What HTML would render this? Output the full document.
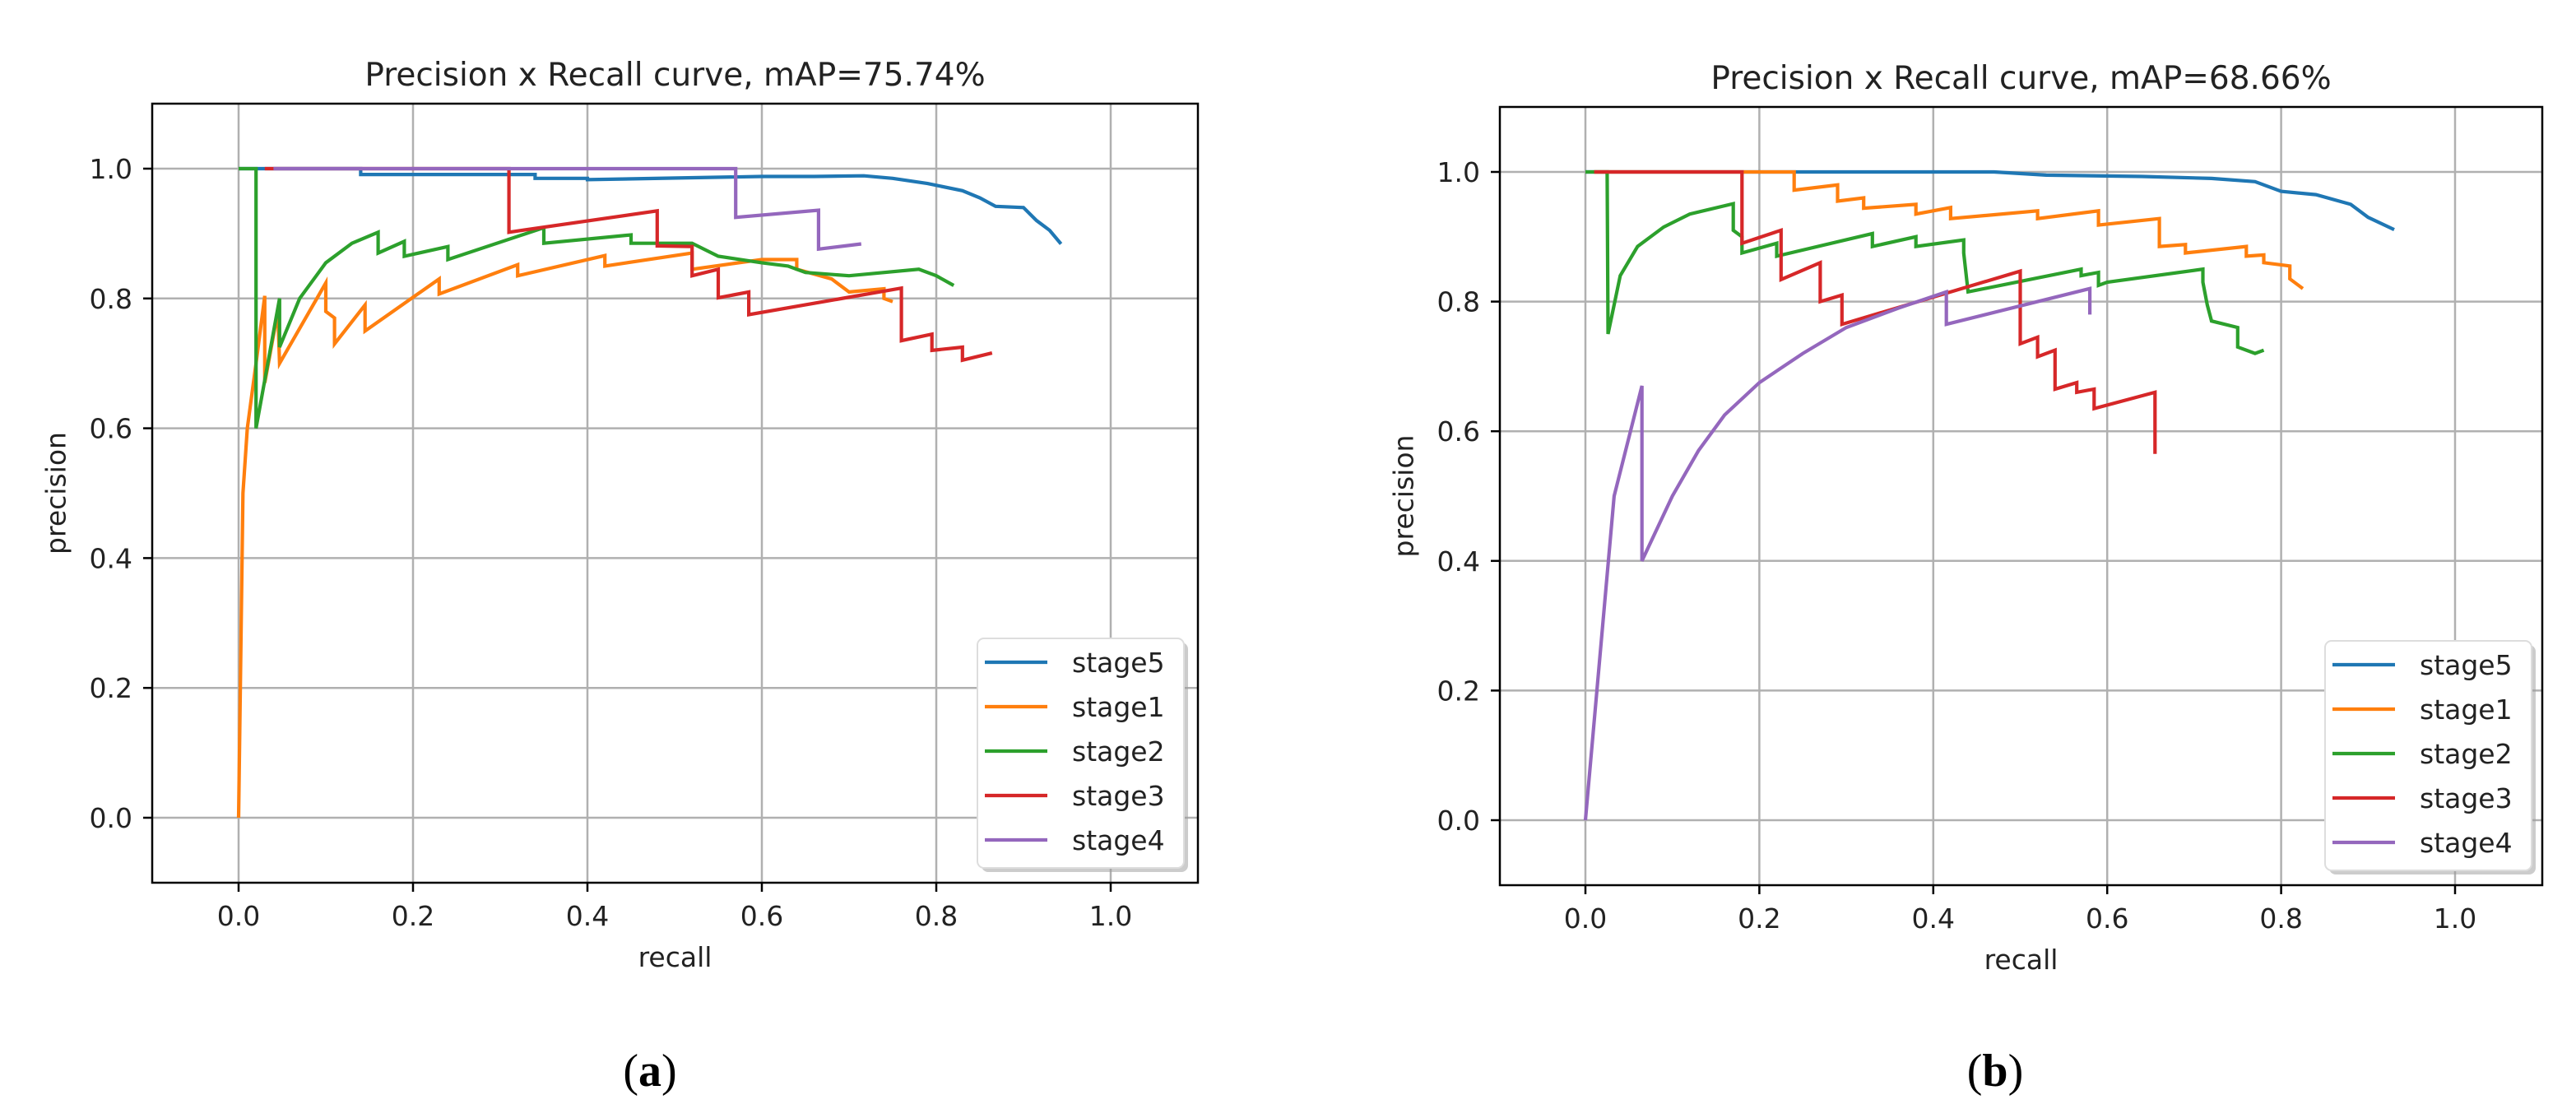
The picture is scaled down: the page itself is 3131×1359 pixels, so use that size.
<!DOCTYPE html>
<html><head><meta charset="utf-8"><style>
html,body{margin:0;padding:0;background:#fff;}
svg{display:block;font-family:"DejaVu Sans","Liberation Sans",sans-serif;}
</style></head><body>
<svg id="fig" width="3131" height="1359" viewBox="0 0 3131 1359"></svg>
<script>
// ---- data (panel a) ----
const seriesNames = ["stage5","stage1","stage2","stage3","stage4"];
const seriesColors = ["#1f77b4","#ff7f0e","#2ca02c","#d62728","#9467bd"];
const xTicks = [0.0,0.2,0.4,0.6,0.8,1.0];
const yTicks = [0.0,0.2,0.4,0.6,0.8,1.0];
const tickLabels = ["0.0","0.2","0.4","0.6","0.8","1.0"];
const titles = ["Precision x Recall curve, mAP=75.74%","Precision x Recall curve, mAP=68.66%"];
const captions = ["(a)","(b)"];

const aS5r = [0,0.14,0.14,0.34,0.34,0.4,0.4,0.6,0.66,0.717,0.75,0.79,0.83,0.85,0.868,0.9,0.915,0.93,0.943];
const aS5p = [1,1,0.991,0.991,0.985,0.985,0.983,0.988,0.988,0.989,0.985,0.977,0.966,0.955,0.942,0.94,0.92,0.905,0.884];
const aS1r = [0,0.005,0.01,0.02,0.03,0.03,0.045,0.047,0.1,0.1,0.11,0.11,0.145,0.145,0.23,0.23,0.32,0.32,0.42,0.42,0.52,0.52,0.6,0.64,0.64,0.68,0.7,0.74,0.74,0.75];
const aS1p = [0,0.5,0.6,0.7,0.804,0.67,0.78,0.70,0.824,0.78,0.77,0.73,0.79,0.75,0.83,0.807,0.852,0.835,0.866,0.85,0.87,0.845,0.86,0.86,0.845,0.83,0.81,0.815,0.8,0.795];
const aS2r = [0,0.02,0.02,0.047,0.047,0.07,0.1,0.13,0.16,0.16,0.19,0.19,0.24,0.24,0.35,0.35,0.45,0.45,0.52,0.55,0.6,0.63,0.65,0.7,0.78,0.8,0.82];
const aS2p = [1,1,0.6,0.80,0.725,0.80,0.855,0.885,0.902,0.87,0.888,0.865,0.88,0.86,0.909,0.885,0.898,0.885,0.885,0.865,0.855,0.85,0.84,0.835,0.845,0.835,0.82];
const aS3r = [0.03,0.31,0.31,0.48,0.48,0.52,0.52,0.55,0.55,0.585,0.585,0.76,0.76,0.795,0.795,0.83,0.83,0.864];
const aS3p = [1,1,0.902,0.935,0.881,0.88,0.835,0.845,0.801,0.81,0.775,0.816,0.735,0.745,0.72,0.725,0.705,0.716];
const aS4r = [0.04,0.57,0.57,0.665,0.665,0.714];
const aS4p = [1,1,0.925,0.936,0.876,0.884];

// ---- data (panel b) ----
const bS5r = [0,0.47,0.53,0.64,0.72,0.77,0.8,0.84,0.88,0.9,0.93];
const bS5p = [1,1,0.995,0.993,0.99,0.985,0.97,0.965,0.95,0.93,0.911];
const bS1r = [0.01,0.24,0.24,0.29,0.29,0.32,0.32,0.38,0.38,0.42,0.42,0.52,0.52,0.59,0.59,0.66,0.66,0.69,0.69,0.76,0.76,0.78,0.78,0.81,0.81,0.825];
const bS1p = [1,1,0.972,0.98,0.955,0.96,0.944,0.95,0.935,0.945,0.928,0.94,0.928,0.94,0.918,0.928,0.885,0.888,0.875,0.885,0.87,0.872,0.86,0.855,0.835,0.82];
const bS2r = [0,0.025,0.026,0.04,0.06,0.09,0.12,0.17,0.17,0.18,0.18,0.22,0.22,0.33,0.33,0.38,0.38,0.435,0.435,0.44,0.57,0.57,0.59,0.59,0.6,0.71,0.71,0.715,0.72,0.75,0.75,0.77,0.78];
const bS2p = [1,1,0.75,0.84,0.885,0.915,0.935,0.951,0.91,0.9,0.875,0.89,0.87,0.905,0.885,0.9,0.885,0.895,0.875,0.815,0.85,0.84,0.845,0.825,0.83,0.85,0.83,0.795,0.77,0.76,0.73,0.72,0.725];
const bS3r = [0.01,0.18,0.18,0.225,0.225,0.27,0.27,0.295,0.295,0.5,0.5,0.52,0.52,0.54,0.54,0.565,0.565,0.585,0.585,0.655,0.655];
const bS3p = [1,1,0.89,0.91,0.834,0.86,0.80,0.81,0.765,0.847,0.735,0.745,0.715,0.725,0.665,0.675,0.66,0.665,0.635,0.66,0.565];
const bS4r = [0,0.033,0.065,0.065,0.1,0.13,0.16,0.2,0.25,0.3,0.36,0.415,0.415,0.58,0.58];
const bS4p = [0,0.50,0.67,0.40,0.50,0.57,0.625,0.675,0.72,0.76,0.79,0.815,0.765,0.82,0.78];

const panels = [
  {L:185,R:1456,x0:290,x1:1350,y0:994,y1:205,T:126,B:1073,ylabX:70,capX:790,
   data:[[aS5r,aS5p],[aS1r,aS1p],[aS2r,aS2p],[aS3r,aS3p],[aS4r,aS4p]],legX:1188,legY:776},
  {L:1823,R:3090,x0:1927,x1:2984,y0:997,y1:209,T:130,B:1076,ylabX:1708,capX:2425,
   data:[[bS5r,bS5p],[bS1r,bS1p],[bS2r,bS2p],[bS3r,bS3p],[bS4r,bS4p]],legX:2826,legY:779}
];
const NS="http://www.w3.org/2000/svg";
const svg=document.getElementById('fig');
function mk(tag,attrs,parent){const e=document.createElementNS(NS,tag);for(const k in attrs)e.setAttribute(k,attrs[k]);(parent||svg).appendChild(e);return e;}

panels.forEach((P,pi)=>{
  const sx=v=>P.x0+(P.x1-P.x0)*v;
  const sy=v=>P.y0+(P.y1-P.y0)*v;
  const g=mk('g',{});
  
  
  xTicks.forEach((t,i)=>{
    const l=mk('line',{x1:sx(t),x2:sx(t),y1:P.T,y2:P.B,stroke:'#b0b0b0','stroke-width':2.5},g);
    
    
    const tk=mk('line',{x1:sx(t),x2:sx(t),y1:P.B,y2:P.B+11,stroke:'#000','stroke-width':2.5},g);
    
    
    const tx=mk('text',{x:sx(t),y:P.B+52,'text-anchor':'middle','font-size':33,fill:'#222'},g);
    tx.textContent=tickLabels[i];
    
    
  });
  yTicks.forEach((t,i)=>{
    const l=mk('line',{x1:P.L,x2:P.R,y1:sy(t),y2:sy(t),stroke:'#b0b0b0','stroke-width':2.5},g);
    
    
    const tk=mk('line',{x1:P.L-11,x2:P.L,y1:sy(t),y2:sy(t),stroke:'#000','stroke-width':2.5},g);
    
    
    const tx=mk('text',{x:P.L-24,y:sy(t)+12,'text-anchor':'end','font-size':33,fill:'#222'},g);
    tx.textContent=tickLabels[i];
    
    
  });
  P.data.forEach((d,si)=>{
    const pts=d[0].map((r,k)=>sx(r).toFixed(1)+','+sy(d[1][k]).toFixed(1)).join(' ');
    const pl=mk('polyline',{points:pts,fill:'none',stroke:seriesColors[si],'stroke-width':4.2,'stroke-linejoin':'miter'},g);
    
    
  });
  const fr=mk('rect',{x:P.L,y:P.T,width:P.R-P.L,height:P.B-P.T,fill:'none',stroke:'#000','stroke-width':2.5},g);
  
  
  const ti=mk('text',{x:(P.L+P.R)/2,y:P.T-22,'text-anchor':'middle','font-size':39,fill:'#222'},g);
  ti.textContent=titles[pi];
  
  
  const xl=mk('text',{x:(P.L+P.R)/2,y:P.B+102,'text-anchor':'middle','font-size':33,fill:'#222'},g);
  xl.textContent='recall';
  
  
  const cy=(P.T+P.B)/2;
  const yl=mk('text',{x:P.ylabX,y:cy,'text-anchor':'middle','font-size':33,fill:'#222',transform:'rotate(-90 '+P.ylabX+' '+cy+')','dominant-baseline':'middle'},g);
  yl.textContent='precision';
  
  
  const cap=mk('text',{x:P.capX,y:1320,'text-anchor':'middle','font-size':56,fill:'#000','font-family':'"Liberation Serif",serif'},g);
  cap.innerHTML='(<tspan font-weight="bold">'+(pi===0?'a':'b')+'</tspan>)';
  
  
  const lg=mk('g',{},g);
  
  
  mk('rect',{x:P.legX+5,y:P.legY+5,width:251,height:279,rx:8,fill:'#999',opacity:0.5},lg);
  mk('rect',{x:P.legX,y:P.legY,width:251,height:279,rx:8,fill:'#fff',stroke:'#ddd','stroke-width':2},lg);
  seriesNames.forEach((n,si)=>{
    const yy=P.legY+29+si*54;
    const ln=mk('line',{x1:P.legX+9,x2:P.legX+85,y1:yy,y2:yy,stroke:seriesColors[si],'stroke-width':4.2},lg);
    
    
    const lt=mk('text',{x:P.legX+115,y:yy+12,'font-size':33,fill:'#222'},lg);
    lt.textContent=n;
    
    
  });
});
</script>
</body></html>
